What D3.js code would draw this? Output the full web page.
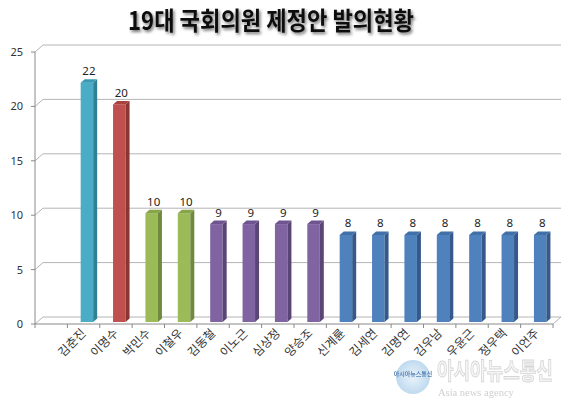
<!DOCTYPE html>
<html><head><meta charset="utf-8">
<script src="https://cdn.jsdelivr.net/npm/d3@7"></script>
<style>body{margin:0;background:#fff}svg{display:block}</style>
</head><body>
<svg id="c" width="580" height="404"></svg>
<script>
const title = "19대 국회의원 제정안 발의현황";
const names = ["김춘진","이명수","박민수","이철우","김동철","이노근","심상정","양승조","신계륜","김세연","김명연","김우남","우윤근","정우택","이언주"];
const values = [22,20,10,10,9,9,9,9,8,8,8,8,8,8,8];
const groups = ["cyan","red","green","green","purple","purple","purple","purple","blue","blue","blue","blue","blue","blue","blue"];
const yTicks = [0,5,10,15,20,25];

const palette = {
  cyan:  {front:"#4bacc6", side:"#2f7f95", top:"#3a98b2"},
  red:   {front:"#c0504d", side:"#8c3532", top:"#a8423f"},
  green: {front:"#9bbb59", side:"#6f8a3c", top:"#86a548"},
  purple:{front:"#8064a2", side:"#5a4576", top:"#6e5590"},
  blue:  {front:"#4f81bd", side:"#34598a", top:"#416fa8"}
};

const svg = d3.select("#c");
const defs = svg.append("defs");
const f = defs.append("filter").attr("id","sh").attr("x","-10%").attr("y","-30%").attr("width","120%").attr("height","170%");
f.append("feDropShadow").attr("dx",1.5).attr("dy",2).attr("stdDeviation",1.6).attr("flood-color","#000").attr("flood-opacity",0.55);
const rg = defs.append("radialGradient").attr("id","globe");
rg.append("stop").attr("offset","0%").attr("stop-color","#e6f2fb");
rg.append("stop").attr("offset","100%").attr("stop-color","#b5d4ec");

// title
svg.append("text").attr("x",271).attr("y",30).attr("text-anchor","middle")
  .attr("font-family","'Noto Sans CJK KR', sans-serif").attr("font-weight","bold")
  .attr("font-size",25).attr("fill","#111").attr("filter","url(#sh)")
  .attr("textLength",286).attr("lengthAdjust","spacingAndGlyphs").text(title);

const slots = [""].concat(names);
const x = d3.scaleBand().domain(slots).range([35,553]).padding(0);
const y = d3.scaleLinear().domain([0,25]).range([324,52]);
const DX = 8, DY = -7;           // wall depth offset
const gridC = "#b4b4b4", axisC = "#8a8a8a";

// gridlines (back wall)
yTicks.filter(v=>v>0).forEach(v=>{
  svg.append("path").attr("fill","none").attr("stroke",gridC).attr("stroke-width",1)
    .attr("d",`M35,${y(v)}L${35+DX},${y(v)+DY}L${553+DX},${y(v)+DY}`);
});
// floor
svg.append("path").attr("fill","none").attr("stroke",gridC).attr("stroke-width",1)
  .attr("d",`M35,${y(0)}L${35+DX},${y(0)+DY}L${553+DX},${y(0)+DY}L553,${y(0)}`);
// axes
svg.append("line").attr("x1",35).attr("x2",35).attr("y1",y(25)).attr("y2",y(0)).attr("stroke",axisC);
svg.append("line").attr("x1",35).attr("x2",553).attr("y1",y(0)).attr("y2",y(0)).attr("stroke",axisC);
// y ticks + labels
yTicks.forEach(v=>{
  svg.append("line").attr("x1",31).attr("x2",35).attr("y1",y(v)).attr("y2",y(v)).attr("stroke",axisC);
  svg.append("text").attr("x",23).attr("y",y(v)+4).attr("text-anchor","end")
    .attr("font-family","'Noto Sans', sans-serif").attr("font-size",11).attr("fill","#333").text(v);
});
// x ticks
slots.forEach(s=>{
  svg.append("line").attr("x1",x(s)).attr("x2",x(s)).attr("y1",y(0)).attr("y2",y(0)+4).attr("stroke",axisC);
});
svg.append("line").attr("x1",553).attr("x2",553).attr("y1",y(0)).attr("y2",y(0)+4).attr("stroke",axisC);

// bars
const bw = 12.5, off = 13.3, bdx = 4, bdy = -3.5, sdy = -2;
names.forEach((n,i)=>{
  const c = palette[groups[i]];
  const x0 = x(n)+off, x1 = x0+bw;
  const yt = y(values[i])+sdy, yb = y(0)+sdy;
  const g = svg.append("g");
  g.append("rect").attr("x",x0).attr("y",yt).attr("width",bw).attr("height",yb-yt).attr("fill",c.front);
  g.append("path").attr("fill",c.side).attr("d",`M${x1},${yt}L${x1+bdx},${yt+bdy}L${x1+bdx},${yb+bdy}L${x1},${yb}Z`);
  g.append("path").attr("fill",c.top).attr("d",`M${x0},${yt}L${x0+bdx},${yt+bdy}L${x1+bdx},${yt+bdy}L${x1},${yt}Z`);
  svg.append("text").attr("x",x0+bw/2+2).attr("y",yt+bdy-4).attr("text-anchor","middle")
    .attr("font-family","'Noto Sans', sans-serif").attr("font-size",11.5).attr("fill","#222").text(values[i]);
  svg.append("text").attr("transform",`translate(${x(n)+x.bandwidth()/2+3},${y(0)+10}) rotate(-45)`)
    .attr("text-anchor","end").attr("font-family","'Noto Sans CJK KR', sans-serif")
    .attr("font-size",12).attr("fill","#333").text(n);
});

// watermark
const wm = svg.append("g").attr("opacity",0.85);
wm.append("circle").attr("cx",413).attr("cy",377).attr("r",17).attr("fill","url(#globe)");
wm.append("text").attr("x",413).attr("y",376).attr("text-anchor","middle").attr("font-size",6)
  .attr("font-family","'Noto Sans CJK KR', sans-serif").attr("fill","#3d6fa8").attr("font-weight","bold").text("아시아뉴스통신");
wm.append("text").attr("transform","translate(437,379) scale(1,1.25)").attr("font-family","'Noto Sans CJK KR', sans-serif")
  .attr("font-size",18).attr("font-weight","bold").attr("fill","#f4f4f4").attr("stroke","#cfcfcf").attr("stroke-width",0.7)
  .text("아시아뉴스통신");
wm.append("text").attr("x",438).attr("y",396).attr("font-family","'Liberation Serif', serif")
  .attr("font-size",10.5).attr("fill","#c8c8c8").text("Asia news agency");
</script>
</body></html>
